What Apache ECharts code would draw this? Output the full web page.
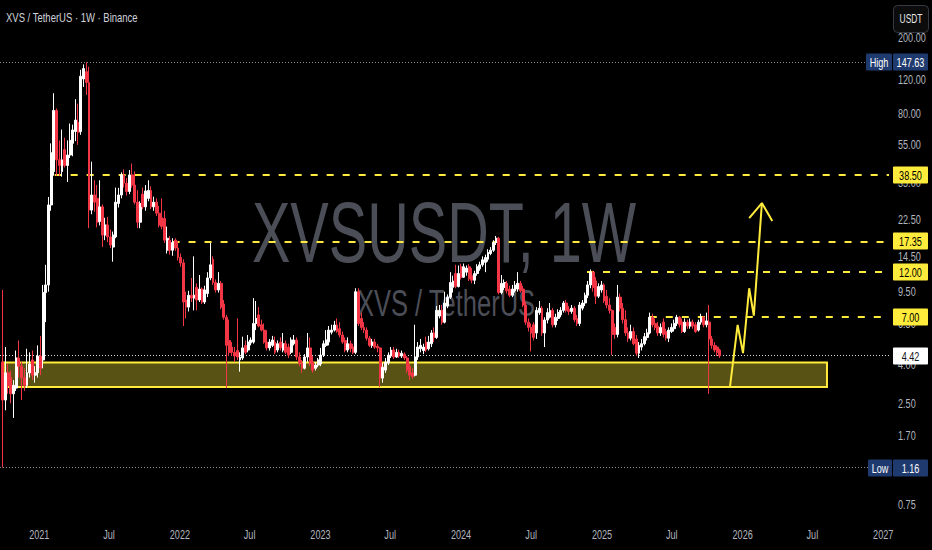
<!DOCTYPE html>
<html><head><meta charset="utf-8">
<script src="https://cdn.jsdelivr.net/npm/echarts@6/dist/echarts.min.js"></script>
<style>html,body{margin:0;padding:0;background:#000;}#c{width:932px;height:550px;}</style>
</head><body><div id="c"></div>
<script>
// ---------- data (weekly candles, [open, close, low, high]) ----------
const firstWeek = '2020-09-28';
const candles2020 = [
 [4.1,2.6,1.16,9.7],[2.6,3.6,2.3,4.9],[3.6,3.1,2.8,4.0],[3.4,2.8,2.5,3.7],[2.8,3.1,2.1,3.3],
 [3.0,4.3,2.9,4.7],[4.3,3.9,3.4,5.3],[3.9,3.4,2.6,4.1],[3.4,3.1,2.9,3.8],[3.1,3.6,3.0,4.8],
 [3.6,4.0,3.4,4.6],[4.2,3.5,3.3,4.7],[3.5,3.6,3.2,3.9],[3.6,4.4,3.4,5.0]
];
const candles2021 = [
 [4.4,3.8,3.5,5.6],[4.2,9.4,3.8,10.3],[9.4,10.3,6.6,13.1],[10.3,26.8,9.5,29.5],[26.8,50,25,56],
 [40,83,38,102],[83,46,38,85],[46,43,38,58],[40,46,37.6,66],[52,43,42,60],
 [43,48.7,35.3,58],[48.7,58,47,71],[56,65.7,48,70],[64.5,74,57.5,95],[72,64,55,90],
 [64.5,125,62,135],[121,137,110,144],[132,116,100,147.63],[116,25.2,20.3,140],[25.2,30.2,24,45],
 [30.2,27.7,24.7,36],[29,21.8,20.5,34],[22,26.2,21,36],[26.2,18.7,16.2,27],[18.7,21.1,17.6,23],
 [21.1,18.3,17.2,23.2],[18.3,16.6,16,20],[16.2,18.7,13.6,19.5],[18.3,27.7,18,33],[27.3,30.2,26,32.9],
 [30.2,38.4,29,39.6],[38.4,34.8,33,41],[34.8,31.5,30,37],[31.5,38.4,30.5,40.7],[38.4,34,33,44],
 [34,27.7,27,40],[27.7,21.8,20.3,32],[21.8,27.3,20.3,28],[30.5,26.2,25.5,33],[26.2,31.7,25,34],
 [29,31.9,28,36],[31.9,26.2,25.5,33.5],[26.2,27.7,25,29.6],[27.7,24.3,23.5,29],[24.3,21.1,20.5,26.5],
 [23,20.7,20,29],[22.8,17.6,17,25],[15.6,18,15,20.7],[17.6,15.6,14.8,18.5],[15.6,17.1,14.6,18],
 [17.6,16,15.5,18],[16,14.3,13.8,17.4]
];
const candles2022 = [
 [14.3,13.4,12.8,15],[13.4,8.4,6.3,14],[8.6,7.9,6.9,9.5],[7.9,9.1,7.5,9.6],[9.1,8.8,8.4,11.2],
 [8.8,9.1,7.6,14.5],[10,8.6,7.6,10.5],[8.6,9.8,8.4,11.6],[9.8,8.4,8.2,10],[8.4,9.7,8.2,10.2],
 [9.3,11.2,8.9,12],[11.2,13.1,10.9,17],[14,10.6,10.3,14.5],[10.6,9.7,9.4,11],[9.7,10.5,9.4,12],
 [10.5,7.9,7.7,10.8],[8.2,7,6.8,8.6],[7,5,3.0,7.2],[5.3,4.6,4.4,6.8],[4.9,4.6,4.4,5.2],
 [4.6,4.4,4.1,4.9],[4.7,4.35,4.2,6.9],[4.2,4.35,3.65,4.6],[4.3,4.85,4.2,5.55],[5.0,4.6,4.5,5.3],
 [4.73,5.2,4.6,5.66],[5.15,5.33,5.0,5.5],[5.2,6.5,5.1,8.8],[6.5,6.9,6.0,8.5],[7.2,6.3,6.2,7.9],
 [6.4,6.0,5.9,6.8],[6.0,5.2,5.1,6.5],[5.2,4.85,4.7,6.0],[4.85,5.2,4.7,5.4],[5.0,5.33,4.9,5.6],
 [5.2,4.6,4.5,5.55],[4.73,5.1,4.6,5.3],[5.2,4.85,4.7,5.5],[4.73,5.1,4.6,5.8],[5.1,4.6,4.5,5.3],
 [4.9,4.45,4.3,5.1],[4.6,5.33,4.5,5.5],[5.1,5.33,5.0,5.66],[5.33,4.35,4.2,5.5],[4.35,4.05,3.9,4.6],
 [4.05,3.8,3.6,4.2],[3.8,4.35,3.75,4.5],[4.35,4.85,4.1,5.8],[4.85,4.05,3.9,5.5],[4.1,3.72,3.6,4.4],
 [3.8,3.95,3.7,4.1],[3.95,4.2,3.85,4.3]
];
const candles2023 = [
 [4.0,4.45,3.9,4.85],[4.45,5.1,4.35,5.3],[5.0,5.33,4.9,6.0],[5.2,6.0,5.0,6.3],[5.85,6.0,5.7,6.4],
 [6.0,6.38,5.9,6.7],[6.38,5.9,5.8,6.9],[6.1,5.66,5.5,6.6],[5.66,5.2,5.1,5.9],[5.3,4.73,4.6,5.5],
 [4.73,5.1,4.6,5.5],[5.1,4.8,4.6,5.3],[4.9,4.6,4.5,5.1],[4.6,9.5,4.5,9.9],[9.5,6.5,6.3,9.9],
 [6.9,6.2,6.0,7.4],[6.2,6.0,5.8,6.6],[6.0,5.45,5.3,6.2],[5.45,5.0,4.9,5.6],[5.0,5.2,4.85,5.4],
 [5.2,4.9,4.8,5.4],[4.95,4.85,4.6,5.1],[4.85,3.38,3.03,4.9],[3.38,3.85,3.2,4.05],[3.72,4.1,3.6,4.3],
 [4.05,4.45,3.95,4.6],[4.4,4.73,4.3,4.9],[4.73,4.35,4.25,4.9],[4.35,4.6,4.3,4.8],[4.6,4.4,4.3,4.75],
 [4.4,4.55,4.3,4.7],[4.5,4.3,4.2,4.6],[4.3,3.72,3.6,4.4],[3.9,3.5,3.3,4.0],[3.6,3.45,3.35,3.8],
 [3.5,4.35,3.45,6.4],[4.35,4.9,4.2,5.2],[4.8,5.0,4.6,5.4],[4.7,4.9,4.5,5.1],[5.2,4.73,4.6,5.55],
 [4.8,5.2,4.7,5.6],[5.1,5.8,4.9,6.0],[5.8,5.5,5.2,6.2],[5.5,7.6,5.4,8.0],[7.1,7.6,6.9,8.1],
 [7.6,6.6,6.4,8.1],[6.6,8.3,6.5,9.5],[8.0,8.9,7.8,9.2],[8.9,10.6,8.7,12],[10.0,10.8,9.4,11.5],
 [11.8,10.1,9.9,13.1],[10.1,11.8,10,13]
];
const candles2024 = [
 [12.8,11.3,11,13.3],[11.3,12.8,11.2,13.3],[12.0,12.6,11.5,13.0],[12.8,11.1,10.8,13.2],[11.5,10.9,10.5,12.6],
 [10.9,11.8,10.4,12.2],[11.8,12.8,11.5,13.2],[12.5,13.1,12.2,13.6],[13.1,13.9,12.8,14.5],[13.5,14.3,12.0,14.8],
 [14.0,15.2,13.6,15.8],[15.0,15.6,14.7,16.2],[15.6,17.1,15.3,17.6],[17.1,18.0,16.6,18.5],[18.0,9.4,9.2,18.3],
 [9.4,10.5,9.2,11.6],[10.0,10.6,9.7,11],[10.5,9.6,9.3,10.8],[9.8,9.1,8.9,10.2],[9.1,9.8,8.9,10.3],
 [9.6,10.3,9.4,10.8],[9.8,10.5,9.5,12.0],[10.5,9.6,9.4,10.8],[9.8,8.1,7.9,10.2],[8.1,6.6,6.4,8.4],
 [6.6,6.2,5.9,6.9],[6.2,5.8,4.65,6.5],[6.4,5.5,5.3,6.6],[5.8,7.6,5.4,7.9],[7.4,7.8,7.2,8.5],
 [7.8,5.8,5.6,8.0],[5.8,6.77,4.9,7.0],[6.77,7.4,6.5,7.8],[7.0,7.6,6.9,8.3],[7.6,6.4,6.2,7.8],
 [6.4,7.0,6.2,7.3],[6.9,7.4,6.7,7.7],[7.2,7.6,7.0,7.9],[7.6,8.3,7.4,8.5],[8.3,7.6,7.4,8.6],
 [7.7,7.5,7.2,8.0],[7.5,7.8,7.3,8.1],[7.8,6.8,6.6,8.0],[6.9,6.5,6.3,7.2],[6.5,8.1,6.3,8.4],
 [7.8,8.3,7.6,8.6],[8.3,9.1,8.0,9.4],[9.1,10.3,8.8,10.8],[10.3,12.0,9.9,12.4],[12.0,10.0,9.5,12.2],
 [10.8,9.0,8.2,11.3],[9.0,10.1,8.8,10.5],[9.7,10.3,9.4,10.8]
];
const candles2025 = [
 [10.3,8.5,8.3,10.5],[9.0,8.1,7.8,9.7],[8.1,7.6,7.3,8.8],[7.6,5.7,4.45,7.7],[6.2,5.7,5.4,6.5],
 [5.7,8.9,5.5,10.3],[8.9,7.8,7.5,9.3],[7.8,6.8,6.5,8.3],[6.8,5.8,5.6,7.6],[5.8,5.45,5.2,6.2],
 [5.45,5.9,5.3,6.4],[5.9,5.1,5.0,6.2],[5.4,4.55,4.4,5.66],[4.55,5.0,4.3,5.2],[4.9,5.1,4.7,5.4],
 [5.1,5.55,5.0,5.8],[5.5,5.8,5.3,6.1],[5.8,7.0,5.7,7.4],[7.0,6.4,6.2,7.3],[6.5,6.2,6.0,6.9],
 [6.3,5.8,5.6,6.6],[5.8,6.2,5.6,6.5],[6.6,5.7,5.5,6.9],[5.9,5.45,5.3,6.1],[5.45,6.0,5.2,6.2],
 [5.9,6.2,5.8,6.5],[6.1,6.5,5.9,6.8],[6.5,7.0,6.3,7.2],[7.0,6.4,6.2,7.1],[6.6,5.9,5.8,6.9],
 [5.9,6.6,5.8,6.9],[6.6,6.3,6.1,6.8],[6.3,6.6,6.1,6.9],[6.6,6.3,6.1,6.8],[6.4,5.9,5.8,6.6],
 [6.0,6.6,5.9,6.8],[6.6,7.0,6.4,7.3],[7.0,6.4,6.2,7.1],[6.4,6.7,6.2,7.4],[6.6,5.4,2.8,8.1],
 [5.4,5.0,4.8,5.6],[5.0,4.73,4.6,5.2],[4.9,4.6,4.4,5.0],[4.73,4.42,4.3,4.8]
];
const yTickLabels = [200, 120, 80, 55, 35, 22.5, 14.5, 9.5, 6.5, 4, 2.5, 1.7, 1.15, 0.75];
const xTickDates = ['2021-01-01','2021-07-01','2022-01-01','2022-07-01','2023-01-01','2023-07-01','2024-01-01',
  '2024-07-01','2025-01-01','2025-07-01','2026-01-01','2026-07-01','2027-01-01'];
const xTickLabels = ['2021','Jul','2022','Jul','2023','Jul','2024','Jul','2025','Jul','2026','Jul','2027'];
const levelValues = [38.5, 17.35, 12.0, 7.0];
const levelStarts = ['2021-02-10', '2021-12-13', '2024-11-23', '2025-05-05'];
const highValue = 147.63, lowValue = 1.16, lastPrice = 4.42;
const zoneTop = 4.07, zoneBottom = 3.04, zoneFrom = '2020-10-01', zoneTo = '2026-08-08';
const pathDates = ['2025-11-29','2025-12-19','2026-01-02','2026-01-18','2026-01-30','2026-02-20'];
const pathValues = [3.03, 6.38, 4.56, 9.9, 7.13, 27.4];
const arrowDates = ['2026-01-18','2026-02-20','2026-03-19'];
const arrowValues = [22.9, 27.4, 22.1];
const axisMinDate = '2020-09-21', axisMaxDate = '2027-01-16';
const axisMinValue = 0.612, axisMaxValue = 311;

// ---------- build ----------
const DAY = 86400000;
const ts = s => Date.parse(s + 'T00:00:00Z');
const allCandles = [].concat(candles2020, candles2021, candles2022, candles2023, candles2024, candles2025);
const candleData = allCandles.map((c, i) => [ts(firstWeek) + i * 7 * DAY, c[0], c[1], c[2], c[3]]);
const FONT = '"Liberation Sans", Arial, sans-serif';
const SX = 0.7;
const xMin = ts(axisMinDate), xMax = ts(axisMaxDate);

const chart = echarts.init(document.getElementById('c'), null, {renderer: 'svg'});

const levelLines = levelValues.map((v, i) => [{coord: [ts(levelStarts[i]), v]}, {coord: [xMax, v]}]);

const option = {
  backgroundColor: '#000000',
  animation: false,
  grid: {left: 0, right: 43, top: 0, bottom: 29, containLabel: false},
  xAxis: {
    type: 'time', min: xMin, max: xMax,
    axisLine: {show: false}, axisTick: {show: false}, splitLine: {show: false},
    axisLabel: {show: false}
  },
  yAxis: {
    type: 'log', logBase: 10, position: 'right', min: axisMinValue, max: axisMaxValue,
    axisLine: {show: false}, axisTick: {show: false}, splitLine: {show: false},
    axisLabel: {show: false}
  },
  series: [
    {
      type: 'candlestick', name: 'XVSUSDT', data: candleData, encode: {x: 0, y: [1, 2, 3, 4]},
      barWidth: 2.4, z: 5,
      itemStyle: {color: '#ffffff', color0: '#f23645', borderColor: '#ffffff', borderColor0: '#f23645', borderWidth: 1}
    },
    {
      type: 'line', name: 'zone', data: [], z: 6,
      markArea: {
        silent: true,
        itemStyle: {color: 'rgba(255,235,59,0.35)', borderColor: '#ffeb3b', borderWidth: 2},
        data: [[{coord: [ts(zoneFrom), zoneTop]}, {coord: [ts(zoneTo), zoneBottom]}]]
      }
    },
    {
      type: 'line', name: 'levels', data: [], z: 7,
      markLine: {
        silent: true, symbol: ['none', 'none'], label: {show: false},
        lineStyle: {color: '#ffeb3b', width: 2, type: [7, 9]},
        data: levelLines
      }
    },
    {
      type: 'line', name: 'refs', data: [], z: 7,
      markLine: {
        silent: true, symbol: ['none', 'none'], label: {show: false},
        data: [
          [{coord: [xMin, highValue], lineStyle: {color: '#8a8d96', width: 1, type: [1, 2]}}, {coord: [xMax, highValue]}],
          [{coord: [xMin, lowValue], lineStyle: {color: '#8a8d96', width: 1, type: [1, 2]}}, {coord: [xMax, lowValue]}],
          [{coord: [xMin, lastPrice], lineStyle: {color: '#d8d8d8', width: 1, type: [1, 2]}}, {coord: [xMax, lastPrice]}]
        ]
      }
    },
    {
      type: 'line', name: 'projection', z: 8, symbol: 'none',
      lineStyle: {color: '#ffeb3b', width: 2},
      data: pathDates.map((d, i) => [ts(d), pathValues[i]])
    },
    {
      type: 'line', name: 'arrow', z: 8, symbol: 'none',
      lineStyle: {color: '#ffeb3b', width: 2},
      data: arrowDates.map((d, i) => [ts(d), arrowValues[i]])
    }
  ]
};
chart.setOption(option);

function txt(x, y, text, fill, size, align, z, sx) {
  return {type: 'text', x, y, scaleX: sx || SX, z: z || 100,
    style: {text, fill, font: size + 'px ' + FONT, align: align || 'center', textAlign: align || 'center', verticalAlign: 'middle', textVerticalAlign: 'middle'}};
}
function badge(x, w, y, text, bg, fg) {
  const cy = Math.round(y);
  return {type: 'group', z: 120, children: [
    {type: 'rect', shape: {x, y: cy - 8.5, width: w, height: 17, r: 1}, style: {fill: bg}, z: 120},
    txt(x + w / 2, cy, text, fg, 13, 'center', 121)
  ]};
}
const py = v => chart.convertToPixel({yAxisIndex: 0}, v);
const px = t => chart.convertToPixel({xAxisIndex: 0}, t);

const graphics = [
  {type: 'text', x: 444, y: 233, scaleX: 0.67, z: -1, silent: true,
   style: {text: 'XVSUSDT, 1W', fill: '#4b4e57', font: '86px ' + FONT,
     align: 'center', textAlign: 'center', verticalAlign: 'middle', textVerticalAlign: 'middle'}},
  {type: 'text', x: 446, y: 303, scaleX: 0.69, z: -1, silent: true,
   style: {text: 'XVS / TetherUS', fill: '#4b4e57', font: '37px ' + FONT,
     align: 'center', textAlign: 'center', verticalAlign: 'middle', textVerticalAlign: 'middle'}},
  txt(6, 17, 'XVS / TetherUS · 1W · Binance', '#d1d4dc', 13, 'left', 100, 0.73),
  {type: 'rect', z: 100, shape: {x: 893.5, y: 5.5, width: 35, height: 27, r: 4}, style: {fill: '#0c0c0c', stroke: '#363a45', lineWidth: 1}},
  txt(911, 19, 'USDT', '#e6e6e6', 12, 'center')
];
yTickLabels.forEach(v => graphics.push(txt(898, py(v), v.toFixed(2), '#b2b5be', 13, 'left')));
xTickDates.forEach((d, i) => graphics.push(txt(px(ts(d)), 534, xTickLabels[i], '#b2b5be', 13, 'center')));
levelValues.forEach(v => graphics.push(badge(893, 35, py(v), v.toFixed(2), '#ffeb3b', '#000000')));
graphics.push(badge(866, 26, py(highValue), 'High', '#1e3a6e', '#ffffff'));
graphics.push(badge(893, 35, py(highValue), highValue.toFixed(2), '#1e3a6e', '#ffffff'));
graphics.push(badge(868, 24, py(lowValue), 'Low', '#1e3a6e', '#ffffff'));
graphics.push(badge(893, 35, py(lowValue), lowValue.toFixed(2), '#1e3a6e', '#ffffff'));
graphics.push(badge(893, 35, py(lastPrice), lastPrice.toFixed(2), '#ffffff', '#131722'));
chart.setOption({graphic: graphics});
</script></body></html>
